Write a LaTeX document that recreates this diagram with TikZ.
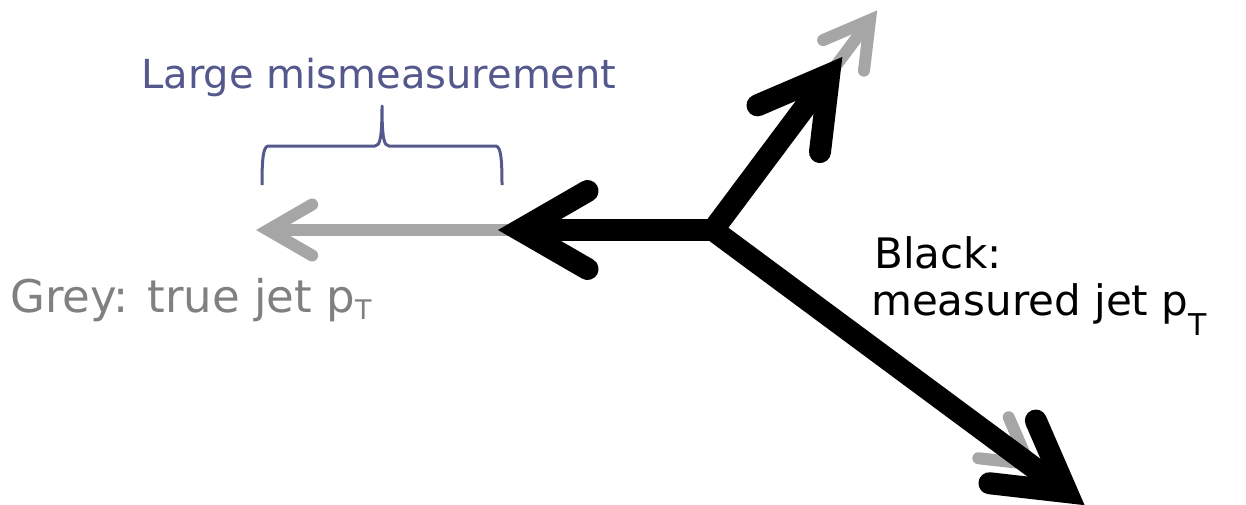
\documentclass[tikz,border=0pt]{standalone}
\usepackage{fontspec}
\setmainfont{DejaVu Sans}
\usetikzlibrary{calc}

\definecolor{truegrey}{RGB}{166,166,166}
\definecolor{labelgrey}{RGB}{128,128,128}
\definecolor{bracecol}{RGB}{84,88,140}

\tikzset{
  measshaft/.style={line width=22pt, line cap=butt},
  trueshaft/.style={line width=12pt, draw=truegrey, line cap=butt},
  meashead/.style={line width=22pt, line cap=round, line join=miter},
  truehead/.style={line width=12pt, draw=truegrey, line cap=round, line join=miter},
  lbl/.style={inner sep=0pt, anchor=base west},
  bracestyle/.style={line width=3pt, draw=bracecol, line cap=butt, line join=round},
}

% open arrowhead: two barbs at +-30 degrees meeting at the tip
\newcommand{\jethead}[3]{%
  \draw[#1] ($(#2)!#3!30:(O)$) -- (#2) -- ($(#2)!#3!-30:(O)$);
}

\begin{document}
\begin{tikzpicture}[x=1pt,y=-1pt]
  \useasboundingbox (0,0) rectangle (1246,504);

  % common vertex of the three jets
  \coordinate (O) at (713,230);
  % true jet tips
  \coordinate (tL)  at (268,230);
  \coordinate (tUR) at (870,20);
  \coordinate (tDR) at (1029,464);
  % measured jet tips
  \coordinate (mL)  at (520,230);
  \coordinate (mUR) at ($(O)!0.74!(tUR)$);
  \coordinate (mDR) at ($(O)!1.12!(tDR)$);

  % true jets (grey)
  \draw[trueshaft] (O) -- (tL);
  \draw[trueshaft] (O) -- (tUR);
  \draw[trueshaft] (O) -- (tDR);
  \jethead{truehead}{tL}{51pt}
  \jethead{truehead}{tUR}{51pt}
  \jethead{truehead}{tDR}{51pt}

  % measured jets (black)
  \draw[measshaft] (O) -- (mL);
  \draw[measshaft] (O) -- (mUR);
  \draw[measshaft] (O) -- (mDR);
  \jethead{meashead}{mL}{78pt}
  \jethead{meashead}{mUR}{78pt}
  \jethead{meashead}{mDR}{78pt}

  % brace over the mismeasured part
  \draw[bracestyle] (262,185) .. controls (262,160) and (263,147) .. (268,146)
    -- (375,146) .. controls (380,146) and (382,138) .. (382,106)
    .. controls (382,138) and (384,146) .. (389,146)
    -- (496,146) .. controls (501,147) and (502,160) .. (502,185);

  % labels
  \node[inner sep=0pt, anchor=base, text=bracecol, font=\fontsize{40}{48}\selectfont]
    (mislbl) at (379,88) {Large mismeasurement};
  \node[lbl, text=labelgrey, font=\fontsize{45}{54}\selectfont]
    (truelbl) at (10,312) {Grey: true jet p\raisebox{-7pt}{\fontsize{27}{27}\selectfont T}};
  \node[lbl, font=\fontsize{42}{50}\selectfont] (blklbl) at (874,268) {Black:};
  \node[lbl, font=\fontsize{42}{50}\selectfont]
    (measlbl) at (871,315) {measured jet p\raisebox{-20pt}{\fontsize{30}{30}\selectfont T}};
\end{tikzpicture}
\end{document}
